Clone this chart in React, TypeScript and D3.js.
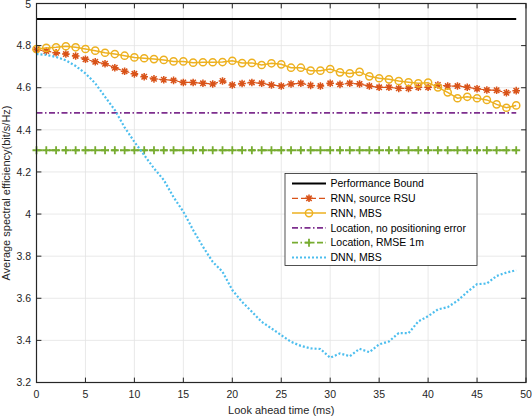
import { useEffect, useRef } from 'react'
import * as d3 from 'd3'

const W = 532
const H = 420
const margin = { top: 3.5, right: 6, bottom: 37.5, left: 36.5 }
const width = W - margin.left - margin.right
const height = H - margin.top - margin.bottom

const FONT = '"Liberation Sans", Arial, Helvetica, sans-serif'
const AXIS_COLOR = '#262626'

// look ahead time (ms)
const lookAhead = [
  0, 1, 2, 3, 4, 5, 6, 7, 8, 9, 10, 11, 12, 13, 14, 15, 16, 17, 18, 19, 20, 21, 22, 23, 24,
  25, 26, 27, 28, 29, 30, 31, 32, 33, 34, 35, 36, 37, 38, 39, 40, 41, 42, 43, 44, 45, 46, 47, 48, 49,
]

const xTicks = [0, 5, 10, 15, 20, 25, 30, 35, 40, 45, 50]
const yTicks = [3.2, 3.4, 3.6, 3.8, 4, 4.2, 4.4, 4.6, 4.8, 5]

const performanceBound = 4.926
const locationNoError = 4.481
const locationRmse1m = 4.303

const rnnSourceRsu = [
  4.781, 4.774, 4.766, 4.76, 4.751, 4.735, 4.723, 4.714, 4.695, 4.678,
  4.666, 4.652, 4.642, 4.638, 4.635, 4.625, 4.625, 4.621, 4.618, 4.632,
  4.613, 4.62, 4.625, 4.621, 4.613, 4.608, 4.618, 4.621, 4.611, 4.608,
  4.621, 4.616, 4.621, 4.618, 4.608, 4.602, 4.602, 4.597, 4.597, 4.602,
  4.602, 4.613, 4.608, 4.608, 4.602, 4.595, 4.589, 4.588, 4.576, 4.586,
]

const rnnMbs = [
  4.784, 4.789, 4.792, 4.797, 4.792, 4.784, 4.776, 4.766, 4.76, 4.752,
  4.744, 4.74, 4.736, 4.732, 4.725, 4.725, 4.719, 4.721, 4.721, 4.722,
  4.728, 4.717, 4.718, 4.708, 4.716, 4.711, 4.695, 4.695, 4.681, 4.681,
  4.689, 4.673, 4.668, 4.675, 4.654, 4.645, 4.64, 4.632, 4.626, 4.621,
  4.624, 4.602, 4.578, 4.55, 4.557, 4.55, 4.542, 4.521, 4.505, 4.516,
]

const dnnMbs = [
  4.76, 4.756, 4.746, 4.73, 4.703, 4.668, 4.621, 4.557, 4.494, 4.412,
  4.343, 4.28, 4.217, 4.162, 4.08, 4.011, 3.924, 3.845, 3.773, 3.726,
  3.639, 3.583, 3.536, 3.488, 3.457, 3.425, 3.393, 3.374, 3.362, 3.359,
  3.318, 3.338, 3.325, 3.36, 3.344, 3.381, 3.395, 3.435, 3.434, 3.49,
  3.515, 3.547, 3.558, 3.588, 3.63, 3.667, 3.67, 3.706, 3.722, 3.733,
]

const legendLabels = [
  'Performance Bound',
  'RNN, source RSU',
  'RNN, MBS',
  'Location, no positioning error',
  'Location, RMSE 1m',
  'DNN, MBS',
]

const colors = {
  bound: '#000000',
  rsu: '#D95319',
  mbs: '#EDB120',
  noErr: '#7E2F8E',
  rmse: '#77AC30',
  dnn: '#4DBEEE',
}

const starPath = (r: number) => {
  const d = r * Math.SQRT1_2
  return `M${-r},0L${r},0M0,${-r}L0,${r}M${-d},${-d}L${d},${d}M${-d},${d}L${d},${-d}`
}
const plusPath = (r: number) => `M${-r},0L${r},0M0,${-r}L0,${r}`

const App = () => {
  const ref = useRef<SVGSVGElement>(null)

  useEffect(() => {
    if (!ref.current) return
    const root = d3.select(ref.current)
    root.selectAll('*').remove()

    const x = d3.scaleLinear().domain([0, 50]).range([0, width])
    const y = d3.scaleLinear().domain([3.2, 5]).range([height, 0])

    const svg = root.append('g').attr('transform', `translate(${margin.left},${margin.top})`)

    // white plot area
    svg.append('rect').attr('width', width).attr('height', height).attr('fill', '#fff')

    // grid
    const grid = svg.append('g').attr('stroke', '#e3e3e3').attr('stroke-width', 0.8)
    grid.selectAll('.gx').data(xTicks.slice(1, -1)).enter().append('line')
      .attr('x1', d => x(d)).attr('x2', d => x(d)).attr('y1', 0).attr('y2', height)
    grid.selectAll('.gy').data(yTicks.slice(1, -1)).enter().append('line')
      .attr('y1', d => y(d)).attr('y2', d => y(d)).attr('x1', 0).attr('x2', width)

    const line = (vals: number[]) =>
      d3.line<number>().x((_, i) => x(lookAhead[i])).y(d => y(d))(vals)
    const flat = (v: number) => line(lookAhead.map(() => v))

    // performance bound
    svg.append('path').attr('d', flat(performanceBound))
      .attr('fill', 'none').attr('stroke', colors.bound).attr('stroke-width', 2)

    // RNN, source RSU
    svg.append('path').attr('d', line(rnnSourceRsu))
      .attr('fill', 'none').attr('stroke', colors.rsu).attr('stroke-width', 1.2)
      .attr('stroke-dasharray', '6,3')
    svg.append('g').selectAll('path').data(rnnSourceRsu).enter().append('path')
      .attr('transform', (d, i) => `translate(${x(lookAhead[i])},${y(d)})`)
      .attr('d', starPath(3.8))
      .attr('stroke', colors.rsu).attr('stroke-width', 1.5).attr('fill', 'none')

    // RNN, MBS
    svg.append('path').attr('d', line(rnnMbs))
      .attr('fill', 'none').attr('stroke', colors.mbs).attr('stroke-width', 1.5)
    svg.append('g').selectAll('circle').data(rnnMbs).enter().append('circle')
      .attr('cx', (_, i) => x(lookAhead[i])).attr('cy', d => y(d)).attr('r', 3.6)
      .attr('stroke', colors.mbs).attr('stroke-width', 1.5).attr('fill', 'none')

    // location, no positioning error
    svg.append('path').attr('d', flat(locationNoError))
      .attr('fill', 'none').attr('stroke', colors.noErr).attr('stroke-width', 1.8)
      .attr('stroke-dasharray', '6,2.5,1.5,2.5')

    // location, RMSE 1m
    svg.append('path').attr('d', flat(locationRmse1m))
      .attr('fill', 'none').attr('stroke', colors.rmse).attr('stroke-width', 1.8)
      .attr('stroke-dasharray', '6,2.5,1.5,2.5')
    svg.append('g').selectAll('path').data(lookAhead).enter().append('path')
      .attr('transform', d => `translate(${x(d)},${y(locationRmse1m)})`)
      .attr('d', plusPath(4))
      .attr('stroke', colors.rmse).attr('stroke-width', 1.8).attr('fill', 'none')

    // DNN, MBS
    svg.append('path').attr('d', line(dnnMbs))
      .attr('fill', 'none').attr('stroke', colors.dnn).attr('stroke-width', 2.2)
      .attr('stroke-dasharray', '2,2')

    // axes box + inward ticks
    const axes = svg.append('g').attr('stroke', AXIS_COLOR).attr('fill', 'none')
    axes.append('rect').attr('width', width).attr('height', height).attr('stroke-width', 1.2)
    const tl = 4.9
    axes.selectAll('.tx').data(xTicks).enter().append('path')
      .attr('d', d => `M${x(d)},${height}v${-tl}M${x(d)},0v${tl}`).attr('stroke-width', 1)
    axes.selectAll('.ty').data(yTicks).enter().append('path')
      .attr('d', d => `M0,${y(d)}h${tl}M${width},${y(d)}h${-tl}`).attr('stroke-width', 1)

    const labels = svg.append('g').attr('font-family', FONT).attr('font-size', 10.5).attr('fill', AXIS_COLOR)
    labels.selectAll('.lx').data(xTicks).enter().append('text')
      .attr('x', d => x(d)).attr('y', height + 15).attr('text-anchor', 'middle')
      .text(d => d3.format('d')(d))
    labels.selectAll('.ly').data(yTicks).enter().append('text')
      .attr('x', -5.5).attr('y', d => Math.max(y(d), 1.2)).attr('dy', '0.35em').attr('text-anchor', 'end')
      .text(d => String(+d.toFixed(1)))

    svg.append('text')
      .attr('x', width / 2).attr('y', height + 31).attr('text-anchor', 'middle')
      .attr('font-family', FONT).attr('font-size', 11).attr('fill', AXIS_COLOR)
      .text('Look ahead time (ms)')
    svg.append('text')
      .attr('transform', `translate(${-27},${height / 2}) rotate(-90)`)
      .attr('text-anchor', 'middle')
      .attr('font-family', FONT).attr('font-size', 11).attr('fill', AXIS_COLOR)
      .text('Average spectral efficiency(bit/s/Hz)')

    // legend
    const lg = root.append('g').attr('transform', 'translate(285,173.5)')
    lg.append('rect').attr('width', 192).attr('height', 92)
      .attr('fill', '#fff').attr('stroke', AXIS_COLOR).attr('stroke-width', 0.8)
    const styles = [
      { c: colors.bound, w: 2, dash: null, m: null },
      { c: colors.rsu, w: 1.2, dash: '6,3', m: 'star' },
      { c: colors.mbs, w: 1.5, dash: null, m: 'circle' },
      { c: colors.noErr, w: 1.8, dash: '6,2.5,1.5,2.5', m: null },
      { c: colors.rmse, w: 1.8, dash: '6,2.5,1.5,2.5', m: 'plus' },
      { c: colors.dnn, w: 2.2, dash: '2,2', m: null },
    ]
    const row = lg.selectAll('.row').data(legendLabels).enter().append('g')
      .attr('transform', (_, i) => `translate(0,${10 + i * 14.8})`)
    row.append('line').attr('x1', 7).attr('x2', 41).attr('y1', 0).attr('y2', 0)
      .attr('stroke', (_, i) => styles[i].c).attr('stroke-width', (_, i) => styles[i].w)
      .attr('stroke-dasharray', (_, i) => styles[i].dash)
    row.each(function (_, i) {
      const s = styles[i]
      const g = d3.select(this)
      if (s.m === 'star') g.append('path').attr('d', starPath(3.8)).attr('transform', 'translate(24,0)')
        .attr('stroke', s.c).attr('stroke-width', 1.5).attr('fill', 'none')
      if (s.m === 'circle') g.append('circle').attr('cx', 24).attr('r', 3.6)
        .attr('stroke', s.c).attr('stroke-width', 1.5).attr('fill', 'none')
      if (s.m === 'plus') g.append('path').attr('d', plusPath(4)).attr('transform', 'translate(24,0)')
        .attr('stroke', s.c).attr('stroke-width', 1.8).attr('fill', 'none')
    })
    row.append('text').attr('x', 45.5).attr('dy', '0.35em')
      .attr('font-family', FONT).attr('font-size', 10.5).attr('fill', '#000')
      .text(d => d)
  }, [])

  return (
    <svg
      ref={ref}
      width={W}
      height={H}
      style={{ position: 'absolute', left: 0, top: 0, background: '#fff' }}
    />
  )
}

export default App
